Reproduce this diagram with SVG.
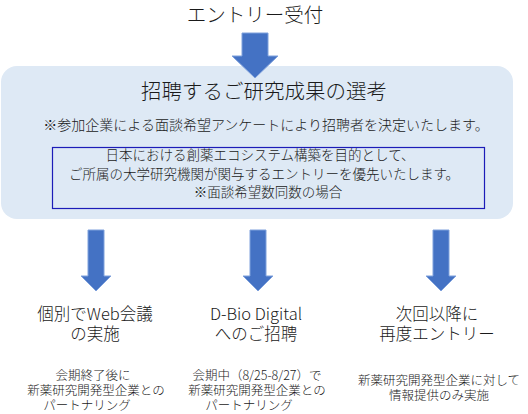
<svg xmlns="http://www.w3.org/2000/svg" width="528" height="414" viewBox="0 0 528 414">
  <style>
    text { font-family: "Noto Sans CJK JP", "Noto Sans", sans-serif; font-weight: 300; fill: #1a1a1a; text-anchor: middle; }
    .t0 { font-size: 19.5px; }
    .t1 { font-size: 20.5px; }
    .t2 { font-size: 14px; }
    .t3 { font-size: 13.5px; }
    .h { font-size: 16.5px; }
    .s { font-size: 12.5px; }
    .arrow { fill: #4472c4; stroke: #7fa1dc; stroke-width: 1; }
  </style>
  <rect width="528" height="414" fill="#ffffff"/>

  <g id="entry">
    <text class="t0" x="255" y="21.5">エントリー受付</text>
  </g>

  <g id="selection">
    <rect x="1" y="66" width="512" height="153" rx="16" ry="16" fill="#dee9f5"/>
    <text class="t1" x="264" y="99">招聘するご研究成果の選考</text>
    <text class="t2" x="266" y="130">※参加企業による面談希望アンケートにより招聘者を決定いたします。</text>
  </g>

  <g id="priority">
    <rect x="52.5" y="147.5" width="432" height="61" fill="none" stroke="#1c1cb8" stroke-width="1.2"/>
    <text class="t3" x="260" y="160">日本における創薬エコシステム構築を目的として、</text>
    <text class="t3" x="264" y="179">ご所属の大学研究機関が関与するエントリーを優先いたします。</text>
    <text class="t3" x="268" y="196.5">※面談希望数同数の場合</text>
  </g>

  <g id="connectors">
    <path class="arrow" d="M242,33 H268 V56 H278 L255,78 L232,56 H242 Z"/>
    <path class="arrow" d="M88,230 H104 V276 H111 L96,291 L81,276 H88 Z"/>
    <path class="arrow" d="M250,230 H266 V276 H273 L258,291 L243,276 H250 Z"/>
    <path class="arrow" d="M433,230 H449 V276 H456 L441,291 L426,276 H433 Z"/>
  </g>

  <g id="web-meeting">
    <text class="h" x="95" y="320">個別でWeb会議</text>
    <text class="h" x="95" y="340">の実施</text>
    <text class="s" x="93" y="380">会期終了後に</text>
    <text class="s" x="96" y="395">新薬研究開発型企業との</text>
    <text class="s" x="87" y="410">パートナリング</text>
  </g>

  <g id="dbio-digital">
    <text class="h" x="256" y="320">D-Bio Digital</text>
    <text class="h" x="256" y="340">へのご招聘</text>
    <text class="s" x="257" y="380">会期中（8/25-8/27）で</text>
    <text class="s" x="257" y="395">新薬研究開発型企業との</text>
    <text class="s" x="249" y="410">パートナリング</text>
  </g>

  <g id="re-entry">
    <text class="h" x="437" y="320">次回以降に</text>
    <text class="h" x="437" y="340">再度エントリー</text>
    <text class="s" x="439" y="385">新薬研究開発型企業に対して</text>
    <text class="s" x="439" y="400">情報提供のみ実施</text>
  </g>
</svg>
